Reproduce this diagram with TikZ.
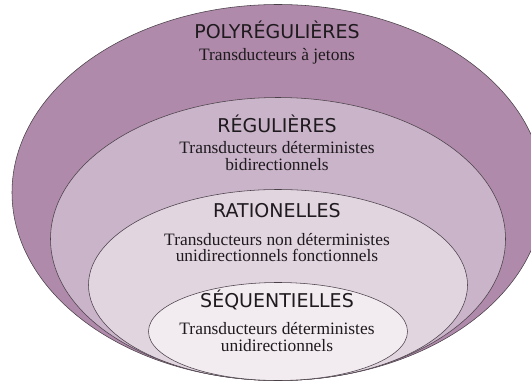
\documentclass[tikz,border=0pt]{standalone}
\usepackage{fontspec}
\setmainfont{Liberation Serif}
\newfontfamily\titlefont{DejaVu Sans}
\definecolor{cOne}{HTML}{AF8AAA}
\definecolor{cTwo}{HTML}{CAB4C9}
\definecolor{cThree}{HTML}{E1D5E0}
\definecolor{cFour}{HTML}{F2ECF1}
\definecolor{cLine}{HTML}{4A4048}
\definecolor{cText}{HTML}{1E1A1E}
\begin{document}
\begin{tikzpicture}[x=1pt,y=-1pt,
  setshape/.style={draw=cLine,line width=0.55pt},
  ttl/.style={anchor=base,inner sep=0pt,text=cText,font=\titlefont\fontsize{19}{20}\selectfont},
  sub/.style={anchor=base,inner sep=0pt,text=cText,font=\fontsize{17.4}{18}\selectfont}]
\useasboundingbox (0,0) rectangle (531,383);
\clip (0,0) rectangle (531,383);
\draw[setshape,fill=cOne]   (278,192.5) ellipse [x radius=266pt,   y radius=188pt];
\draw[setshape,fill=cTwo]   (278,239)   ellipse [x radius=227.5pt, y radius=141.5pt];
\draw[setshape,fill=cThree] (278,285)   ellipse [x radius=189.5pt, y radius=95.5pt];
\draw[setshape,fill=cFour]  (278,331.5) ellipse [x radius=129.5pt, y radius=49pt];
\node[ttl] (t1) at (277,38) {POLYRÉGULIÈRES};
\node[sub] (s1) at (277,60.5) {Transducteurs à jetons};
\node[ttl] (t2) at (277,132) {RÉGULIÈRES};
\node[sub] (s2a) at (277,153.5) {Transducteurs déterministes};
\node[sub] (s2b) at (277,170.5) {bidirectionnels};
\node[ttl] (t3) at (277,217) {RATIONELLES};
\node[sub] (s3a) at (277,245) {Transducteurs non déterministes};
\node[sub] (s3b) at (277,261.5) {unidirectionnels fonctionnels};
\node[ttl] (t4) at (277,307) {SÉQUENTIELLES};
\node[sub] (s4a) at (277,334.5) {Transducteurs déterministes};
\node[sub] (s4b) at (277,351) {unidirectionnels};
\end{tikzpicture}
\end{document}
